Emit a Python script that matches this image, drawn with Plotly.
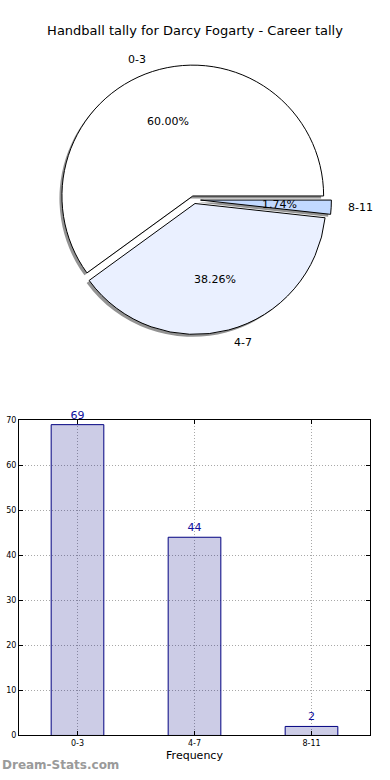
import math
import plotly.graph_objects as go

title = "Handball tally for Darcy Fogarty - Career tally"
categories = ["0-3", "4-7", "8-11"]
counts = [69, 44, 2]
pie_colors = ["#FFFFFF", "#EAF0FF", "#C2D9FF"]
pulls = [0.03, 0.03, 0.05]
y_ticks = [0, 10, 20, 30, 40, 50, 60, 70]

W, H = 390, 780

def px_x(v):
    return v / W

def px_y(v):
    return 1 - v / H

total = sum(counts)
# first slice starts at 3 o'clock and runs counterclockwise (matplotlib default)
start_rot = 90 - 360 * counts[0] / total

# pie geometry in pixels
CX, CY, HALF = 194, 198, 139
R = HALF / (1 + max(pulls))

fig = go.Figure()

dom_x = [px_x(CX - HALF), px_x(CX + HALF)]
dom_y = [px_y(CY + HALF), px_y(CY - HALF)]
SH = 2.5
sh_x = [px_x(CX - HALF - SH), px_x(CX + HALF - SH)]
sh_y = [px_y(CY + HALF + SH), px_y(CY - HALF + SH)]

common = dict(labels=categories, values=counts, sort=False,
              direction="counterclockwise", rotation=start_rot, pull=pulls,
              textinfo="none", showlegend=False)

# shadow
fig.add_trace(go.Pie(
    **common, domain=dict(x=sh_x, y=sh_y),
    marker=dict(colors=["rgba(120,120,120,0.8)"] * 3, line=dict(width=0)),
    hoverinfo="skip",
))

# main pie
fig.add_trace(go.Pie(
    **common, domain=dict(x=dom_x, y=dom_y),
    marker=dict(colors=pie_colors, line=dict(color="black", width=1)),
))

# pie texts (percentages inside, labels outside), placed like matplotlib
annotations = []
acc = 0
for cat, val, pl in zip(categories, counts, pulls):
    mid = math.radians(360 * (acc + val / 2) / total)
    acc += val
    c, s = math.cos(mid), math.sin(mid)
    d_in = (0.6 + pl) * R
    annotations.append(dict(
        text=f"{100 * val / total:.2f}%", x=px_x(CX + d_in * c), y=px_y(CY - d_in * s),
        xref="paper", yref="paper", xanchor="center", yanchor="middle", showarrow=False,
        font=dict(family="DejaVu Sans", size=11, color="black"),
    ))
    d_out = (1.1 + pl) * R
    annotations.append(dict(
        text=cat, x=px_x(CX + d_out * c), y=px_y(CY - d_out * s),
        xref="paper", yref="paper", xanchor="left" if c > 0 else "right",
        yanchor="middle", showarrow=False,
        font=dict(family="DejaVu Sans", size=11, color="black"),
    ))

annotations.append(dict(
    text="<b>Dream-Stats.com</b>", x=0, y=px_y(770), xref="paper", yref="paper",
    xanchor="left", yanchor="middle", showarrow=False,
    font=dict(family="DejaVu Sans", size=12, color="#9a9a9a"),
))

# bar chart
fig.add_trace(go.Bar(
    x=[0, 1, 2], y=counts, width=0.45,
    marker=dict(color="rgba(0,0,128,0.2)", line=dict(color="#000080", width=1)),
    text=[str(c) for c in counts], textposition="outside", cliponaxis=False,
    textfont=dict(family="DejaVu Sans", size=11, color="#10109c"),
    showlegend=False,
))

grid = dict(showgrid=True, gridcolor="#a8a8a8", griddash="1px,2px", gridwidth=1)

fig.update_layout(
    width=W, height=H,
    margin=dict(l=0, r=0, t=0, b=0),
    paper_bgcolor="white", plot_bgcolor="white",
    font=dict(family="DejaVu Sans", color="black"),
    title=dict(text=title, x=0.5, xref="paper", xanchor="center",
               y=px_y(30), yanchor="middle",
               font=dict(family="DejaVu Sans", size=13, color="black")),
    xaxis=dict(
        domain=[px_x(19), px_x(370)], range=[-0.5, 2.5],
        tickmode="array", tickvals=[0, 1, 2], ticktext=categories,
        tickfont=dict(family="DejaVu Sans", size=8, color="black"),
        showline=True, linecolor="black", linewidth=1, mirror="ticks",
        ticks="inside", ticklen=4, tickcolor="black",
        zeroline=False, **grid,
        title=dict(text="Frequency", font=dict(family="DejaVu Sans", size=11), standoff=4),
    ),
    yaxis=dict(
        domain=[px_y(740), px_y(421)], range=[0, 70],
        tickmode="array", tickvals=y_ticks,
        tickfont=dict(family="DejaVu Sans", size=8, color="black"),
        showline=True, linecolor="black", linewidth=1, mirror="ticks",
        ticks="inside", ticklen=4, tickcolor="black",
        zeroline=False, **grid,
    ),
    annotations=annotations,
)

fig.write_html("out.html", config={"displayModeBar": False},
               post_script="document.body.style.margin='0';")
